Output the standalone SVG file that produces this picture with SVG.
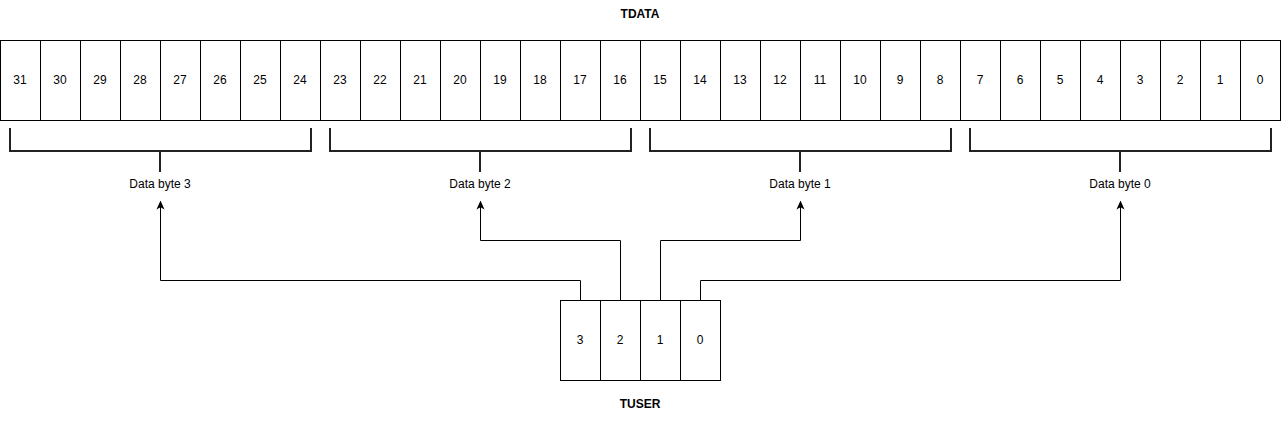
<svg xmlns="http://www.w3.org/2000/svg" width="1281" height="421" viewBox="0 0 1281 421">
<style>
.cell{fill:#fff;stroke:#000;stroke-width:1}
.t{font-family:"Liberation Sans",Arial,sans-serif;font-size:12px;fill:#000;text-anchor:middle;dominant-baseline:central}
.b{font-weight:bold}
.brace{fill:none;stroke:#222;stroke-width:2}
.conn{fill:none;stroke:#000;stroke-width:1}
</style>
<defs>
<marker id="arr" viewBox="0 0 10 10" refX="9" refY="5" markerWidth="9" markerHeight="9" markerUnits="userSpaceOnUse" orient="auto">
<path d="M0,0.5 L10,5 L0,9.5 L2.5,5 Z" fill="#000"/>
</marker>
</defs>
<rect width="1281" height="421" fill="#fff"/>
<text class="t b" x="640" y="14">TDATA</text>
<g id="tdata">
<g id="b31"><rect class="cell" x="0.5" y="40.5" width="40" height="80"/><text class="t" x="20" y="80">31</text></g>
<g id="b30"><rect class="cell" x="40.5" y="40.5" width="40" height="80"/><text class="t" x="60" y="80">30</text></g>
<g id="b29"><rect class="cell" x="80.5" y="40.5" width="40" height="80"/><text class="t" x="100" y="80">29</text></g>
<g id="b28"><rect class="cell" x="120.5" y="40.5" width="40" height="80"/><text class="t" x="140" y="80">28</text></g>
<g id="b27"><rect class="cell" x="160.5" y="40.5" width="40" height="80"/><text class="t" x="180" y="80">27</text></g>
<g id="b26"><rect class="cell" x="200.5" y="40.5" width="40" height="80"/><text class="t" x="220" y="80">26</text></g>
<g id="b25"><rect class="cell" x="240.5" y="40.5" width="40" height="80"/><text class="t" x="260" y="80">25</text></g>
<g id="b24"><rect class="cell" x="280.5" y="40.5" width="40" height="80"/><text class="t" x="300" y="80">24</text></g>
<g id="b23"><rect class="cell" x="320.5" y="40.5" width="40" height="80"/><text class="t" x="340" y="80">23</text></g>
<g id="b22"><rect class="cell" x="360.5" y="40.5" width="40" height="80"/><text class="t" x="380" y="80">22</text></g>
<g id="b21"><rect class="cell" x="400.5" y="40.5" width="40" height="80"/><text class="t" x="420" y="80">21</text></g>
<g id="b20"><rect class="cell" x="440.5" y="40.5" width="40" height="80"/><text class="t" x="460" y="80">20</text></g>
<g id="b19"><rect class="cell" x="480.5" y="40.5" width="40" height="80"/><text class="t" x="500" y="80">19</text></g>
<g id="b18"><rect class="cell" x="520.5" y="40.5" width="40" height="80"/><text class="t" x="540" y="80">18</text></g>
<g id="b17"><rect class="cell" x="560.5" y="40.5" width="40" height="80"/><text class="t" x="580" y="80">17</text></g>
<g id="b16"><rect class="cell" x="600.5" y="40.5" width="40" height="80"/><text class="t" x="620" y="80">16</text></g>
<g id="b15"><rect class="cell" x="640.5" y="40.5" width="40" height="80"/><text class="t" x="660" y="80">15</text></g>
<g id="b14"><rect class="cell" x="680.5" y="40.5" width="40" height="80"/><text class="t" x="700" y="80">14</text></g>
<g id="b13"><rect class="cell" x="720.5" y="40.5" width="40" height="80"/><text class="t" x="740" y="80">13</text></g>
<g id="b12"><rect class="cell" x="760.5" y="40.5" width="40" height="80"/><text class="t" x="780" y="80">12</text></g>
<g id="b11"><rect class="cell" x="800.5" y="40.5" width="40" height="80"/><text class="t" x="820" y="80">11</text></g>
<g id="b10"><rect class="cell" x="840.5" y="40.5" width="40" height="80"/><text class="t" x="860" y="80">10</text></g>
<g id="b9"><rect class="cell" x="880.5" y="40.5" width="40" height="80"/><text class="t" x="900" y="80">9</text></g>
<g id="b8"><rect class="cell" x="920.5" y="40.5" width="40" height="80"/><text class="t" x="940" y="80">8</text></g>
<g id="b7"><rect class="cell" x="960.5" y="40.5" width="40" height="80"/><text class="t" x="980" y="80">7</text></g>
<g id="b6"><rect class="cell" x="1000.5" y="40.5" width="40" height="80"/><text class="t" x="1020" y="80">6</text></g>
<g id="b5"><rect class="cell" x="1040.5" y="40.5" width="40" height="80"/><text class="t" x="1060" y="80">5</text></g>
<g id="b4"><rect class="cell" x="1080.5" y="40.5" width="40" height="80"/><text class="t" x="1100" y="80">4</text></g>
<g id="b3"><rect class="cell" x="1120.5" y="40.5" width="40" height="80"/><text class="t" x="1140" y="80">3</text></g>
<g id="b2"><rect class="cell" x="1160.5" y="40.5" width="40" height="80"/><text class="t" x="1180" y="80">2</text></g>
<g id="b1"><rect class="cell" x="1200.5" y="40.5" width="40" height="80"/><text class="t" x="1220" y="80">1</text></g>
<g id="b0"><rect class="cell" x="1240.5" y="40.5" width="40" height="80"/><text class="t" x="1260" y="80">0</text></g>
</g>
<g id="byte3"><path class="brace" d="M10,128 V151 H311 V128 M160,151 V172"/><text class="t" x="160" y="184">Data byte 3</text></g>
<g id="byte2"><path class="brace" d="M330,128 V151 H631 V128 M480,151 V172"/><text class="t" x="480" y="184">Data byte 2</text></g>
<g id="byte1"><path class="brace" d="M650,128 V151 H951 V128 M800,151 V172"/><text class="t" x="800" y="184">Data byte 1</text></g>
<g id="byte0"><path class="brace" d="M970,128 V151 H1271 V128 M1120,151 V172"/><text class="t" x="1120" y="184">Data byte 0</text></g>
<g id="tuser">
<g id="u3"><rect class="cell" x="560.5" y="300.5" width="40" height="80"/><text class="t" x="580" y="340">3</text></g>
<g id="u2"><rect class="cell" x="600.5" y="300.5" width="40" height="80"/><text class="t" x="620" y="340">2</text></g>
<g id="u1"><rect class="cell" x="640.5" y="300.5" width="40" height="80"/><text class="t" x="660" y="340">1</text></g>
<g id="u0"><rect class="cell" x="680.5" y="300.5" width="40" height="80"/><text class="t" x="700" y="340">0</text></g>
</g>
<text class="t b" x="640" y="404">TUSER</text>
<g id="connectors">
<path class="conn" d="M580.5,300 V280.5 H160.5 V201.5" marker-end="url(#arr)"/>
<path class="conn" d="M620.5,300 V240.5 H480.5 V201.5" marker-end="url(#arr)"/>
<path class="conn" d="M660.5,300 V240.5 H800.5 V201.5" marker-end="url(#arr)"/>
<path class="conn" d="M700.5,300 V280.5 H1120.5 V201.5" marker-end="url(#arr)"/>
</g>
</svg>
